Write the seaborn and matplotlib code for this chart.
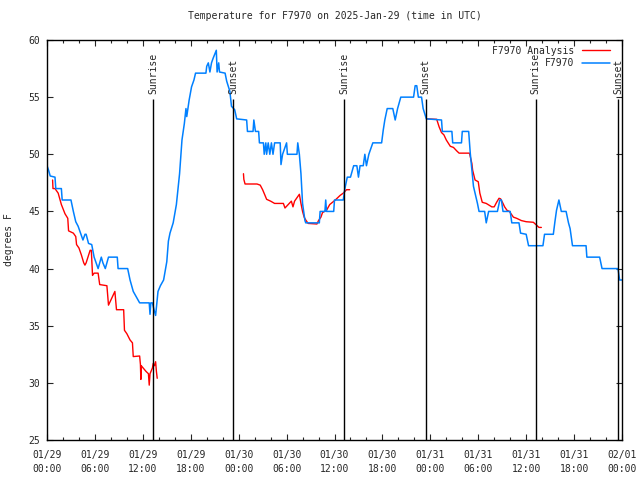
import matplotlib
matplotlib.use('Agg')
import matplotlib.pyplot as plt
import matplotlib.dates as mdates
import seaborn as sns
import pandas as pd

start = pd.Timestamp('2025-01-29 00:00')

# observed station temperature (hours since start, deg F)
obs_hours = [0.0, 0.2, 0.4, 1.0, 1.1, 1.8, 1.9, 3.0, 3.3, 3.6, 3.9, 4.2, 4.5, 4.76, 4.9,
             5.2, 5.6, 5.9, 6.4, 6.8, 7.0, 7.3, 7.7, 8.8, 8.9, 10.1, 10.4, 10.8, 11.6,
             12.8, 12.9, 13.0, 13.2, 13.4, 13.6, 13.9, 14.2, 14.6, 15.0, 15.2, 15.4,
             15.8, 16.2, 16.6, 16.9, 17.2, 17.4, 17.5, 17.8, 18.1, 18.4, 18.6, 19.9,
             20.0, 20.2, 20.4, 20.6, 20.8, 21.2, 21.3, 21.5, 21.6, 22.3, 22.5, 22.9,
             23.1, 23.5, 23.75, 25.0, 25.1, 25.8, 25.9, 26.1, 26.5, 26.6, 27.1, 27.2,
             27.4, 27.5, 27.7, 27.9, 28.1, 28.3, 28.5, 29.2, 29.3, 29.5, 30.0, 30.1,
             31.3, 31.4, 31.6, 31.8, 32.0, 32.3, 32.4, 34.1, 34.2, 34.8, 34.9, 35.0,
             35.9, 36.0, 37.1, 37.3, 37.6, 38.0, 38.4, 38.8, 39.0, 39.2, 39.6, 39.8,
             40.0, 40.3, 40.8, 41.9, 42.1, 42.3, 42.6, 43.3, 43.6, 43.9, 44.3, 45.9,
             46.1, 46.3, 46.5, 46.9, 47.1, 47.5, 49.4, 49.5, 50.7, 50.8, 51.9, 52.0,
             52.8, 53.0, 53.2, 53.4, 53.6, 53.9, 54.1, 54.8, 55.0, 55.3, 56.4, 56.7,
             56.9, 57.1, 58.0, 58.2, 59.1, 59.3, 60.0, 60.3, 62.1, 62.3, 63.4, 63.6,
             63.8, 64.1, 64.4, 65.0, 65.3, 65.5, 65.8, 67.5, 67.6, 69.2, 69.5, 71.5,
             71.7, 72.0]
obs_temps = [49.0, 48.6, 48.1, 48.0, 47.0, 47.0, 46.0, 46.0, 45.0, 44.1, 43.7, 43.1, 42.5, 43.0, 43.0,
             42.2, 42.1, 41.0, 40.0, 41.0, 40.5, 40.0, 41.0, 41.0, 40.0, 40.0, 39.0, 38.0, 37.0,
             37.0, 36.0, 37.0, 37.0, 36.4, 35.9, 38.0, 38.5, 39.0, 40.6, 42.4, 43.1,
             44.0, 45.6, 48.3, 51.25, 52.7, 54.0, 53.3, 54.75, 55.9, 56.5, 57.1, 57.1,
             57.7, 58.0, 57.2, 58.0, 58.4, 59.1, 57.2, 58.0, 57.2, 57.1, 56.4, 55.5,
             54.2, 53.9, 53.1, 53.0, 52.0, 52.0, 53.0, 52.0, 52.0, 51.0, 51.0, 50.0,
             51.0, 50.0, 51.0, 50.0, 51.0, 50.0, 51.0, 51.0, 49.1, 50.0, 51.0, 50.0,
             50.0, 51.0, 50.0, 48.3, 45.7, 44.2, 44.0, 44.0, 45.0, 45.0, 46.0, 45.0,
             45.0, 46.0, 46.0, 47.0, 48.0, 48.0, 49.0, 49.0, 48.0, 49.0, 49.0, 50.0,
             49.0, 50.0, 51.0, 51.0, 52.1, 53.0, 54.0, 54.0, 53.0, 54.0, 55.0, 55.0,
             56.0, 56.0, 55.0, 55.0, 54.0, 53.1, 53.0, 52.0, 52.0, 51.0, 51.0, 52.0,
             52.0, 50.1, 48.6, 47.2, 46.6, 45.7, 45.0, 45.0, 44.0, 45.0, 45.0, 46.0,
             46.0, 45.0, 45.0, 44.0, 44.0, 43.1, 43.0, 42.0, 42.0, 43.0, 43.0, 44.1,
             45.1, 46.0, 45.0, 45.0, 44.0, 43.5, 42.0, 42.0, 41.0, 41.0, 40.0, 40.0,
             39.0, 39.0]

# analysis temperature, three separate runs
ana1_hours = [0.7, 0.75, 1.0, 1.4, 1.8, 2.25, 2.6, 2.7, 3.3, 3.6, 3.7, 4.0, 4.3, 4.6, 4.75,
              4.9, 5.4, 5.55, 5.7, 5.9, 6.4, 6.6, 7.5, 7.7, 8.1, 8.5, 8.7, 9.6, 9.7, 10.0,
              10.4, 10.7, 10.8, 11.6, 11.7, 11.75, 11.8, 12.4, 12.7, 12.8, 12.9, 13.2,
              13.3, 13.45, 13.6, 13.7, 13.8]
ana1_temps = [47.75, 47.0, 47.0, 46.6, 45.6, 44.8, 44.4, 43.3, 43.1, 42.8, 42.1, 41.8, 41.2, 40.5, 40.3,
              40.5, 41.6, 41.6, 39.4, 39.6, 39.6, 38.6, 38.5, 36.8, 37.4, 38.0, 36.4, 36.4, 34.6, 34.3,
              33.75, 33.5, 32.3, 32.35, 31.6, 30.3, 31.5, 31.0, 30.8, 29.8, 30.8, 31.3,
              31.7, 31.5, 31.85, 31.0, 30.4]
ana2_hours = [24.6, 24.65, 24.8, 26.3, 26.7, 27.0, 27.3, 27.5, 28.0, 28.5, 29.6, 29.8, 30.2,
              30.6, 30.8, 31.0, 31.6, 31.8, 32.0, 32.2, 32.4, 32.7, 33.8, 34.0, 34.3, 34.5,
              35.0, 35.4, 36.1, 36.7, 37.1, 37.5, 37.9]
ana2_temps = [48.3, 47.8, 47.4, 47.4, 47.3, 46.9, 46.4, 46.06, 45.9, 45.7, 45.7, 45.3, 45.6,
              45.9, 45.4, 45.9, 46.5, 45.7, 45.0, 44.5, 44.25, 43.95, 43.9, 44.2, 44.5, 44.9,
              45.1, 45.6, 46.0, 46.4, 46.6, 46.9, 46.9]
ana3_hours = [47.6, 48.8, 49.1, 49.4, 49.7, 50.0, 50.5, 50.9, 51.3, 51.6, 52.9, 53.2, 53.3,
              53.6, 54.0, 54.2, 54.5, 55.0, 55.7, 56.0, 56.3, 56.6, 56.8, 57.1, 57.3, 57.6,
              57.9, 58.4, 58.8, 59.4, 60.0, 60.9, 61.3, 61.6, 61.9]
ana3_temps = [53.1, 53.06, 52.4, 51.9, 51.7, 51.25, 50.7, 50.6, 50.3, 50.1, 50.1, 49.2, 48.6,
              47.75, 47.6, 46.6, 45.8, 45.7, 45.4, 45.4, 45.8, 46.15, 46.1, 45.7, 45.4, 45.1,
              45.0, 44.5, 44.4, 44.2, 44.1, 44.05, 43.8, 43.6, 43.6]

sun_hours = [13.3, 23.3, 37.2, 47.4, 61.2, 71.5]
sun_labels = ['Sunrise', 'Sunset', 'Sunrise', 'Sunset', 'Sunrise', 'Sunset']


def to_frame(hours, temps):
    return pd.DataFrame({'time': start + pd.to_timedelta(hours, unit='h'), 'temp': temps})


sns.set_style('ticks')
plt.rcParams['font.family'] = ['DejaVu Sans Mono']
plt.rcParams['font.size'] = 7

fig = plt.figure(figsize=(6.4, 4.8), dpi=100)
ax = fig.add_axes([47 / 640, 40 / 480, 575 / 640, 400 / 480])

red = '#ff0000'
blue = '#0080ff'
for i, (h, t) in enumerate([(ana1_hours, ana1_temps), (ana2_hours, ana2_temps), (ana3_hours, ana3_temps)]):
    sns.lineplot(data=to_frame(h, t), x='time', y='temp', estimator=None, color=red, lw=1,
                 label='F7970 Analysis' if i == 0 else None, ax=ax)
sns.lineplot(data=to_frame(obs_hours, obs_temps), x='time', y='temp', estimator=None,
             color=blue, lw=1.1, label='F7970', ax=ax)

sun_times = start + pd.to_timedelta(sun_hours, unit='h')
ax.vlines(sun_times, 25, 54.8, color='black', lw=1)
for t, lab in zip(sun_times, sun_labels):
    ax.text(t, 55.3, lab, rotation=90, ha='center', va='bottom', fontsize=7)

ax.set_xlim(start, start + pd.Timedelta(hours=72))
ax.set_ylim(25, 60)
ax.set_yticks(range(25, 61, 5))
ax.xaxis.set_major_locator(mdates.HourLocator(byhour=range(0, 24, 6)))
ax.xaxis.set_minor_locator(mdates.HourLocator(byhour=range(0, 24, 2)))
ax.xaxis.set_major_formatter(mdates.DateFormatter('%m/%d\n%H:%M'))
ax.tick_params(which='both', direction='in', top=True, right=True, labelsize=7)
ax.tick_params(which='major', length=4, width=0.8)
ax.tick_params(which='minor', length=2, width=0.8)
ax.tick_params(axis='x', pad=7)
ax.tick_params(axis='y', pad=5)
plt.setp(ax.get_xticklabels(), linespacing=1.5)
for s in ax.spines.values():
    s.set_linewidth(1)
    s.set_color('black')

ax.set_xlabel('')
ax.set_ylabel('degrees F', fontsize=7, labelpad=10)
ax.set_title('Temperature for F7970 on 2025-Jan-29 (time in UTC)', fontsize=7, pad=15)

ax.legend(loc='upper right', bbox_to_anchor=(1, 1.015), frameon=False, markerfirst=False,
          fontsize=7, handlelength=2.9, handletextpad=0.8, labelspacing=0.25, borderaxespad=0.8)

fig.savefig('out.png', dpi=100)
